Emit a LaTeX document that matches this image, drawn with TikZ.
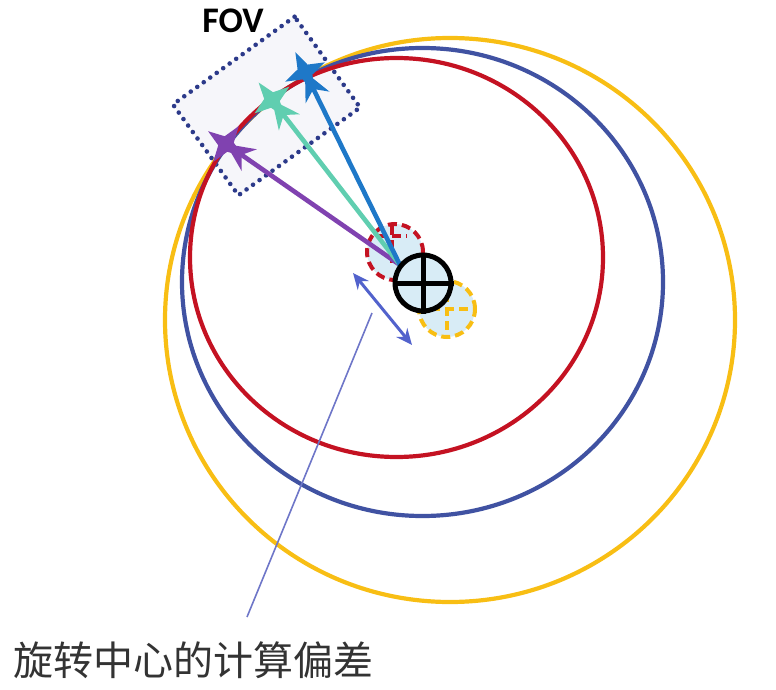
\documentclass[tikz,border=0pt]{standalone}
\usepackage{fontspec}
\newfontfamily\fovfont{Carlito}
\newfontfamily\cjk{Noto Sans CJK SC}
\usetikzlibrary{shapes.geometric,arrows.meta}
\definecolor{ringred}{RGB}{196,18,34}
\definecolor{ringblue}{RGB}{64,82,162}
\definecolor{ringyellow}{RGB}{248,190,20}
\definecolor{raypurple}{RGB}{128,66,176}
\definecolor{rayteal}{RGB}{96,206,176}
\definecolor{rayblue}{RGB}{30,120,200}
\definecolor{fovdots}{RGB}{44,58,138}
\definecolor{fovfill}{RGB}{246,246,250}
\definecolor{paleblue}{RGB}{216,236,246}
\definecolor{offset}{RGB}{82,98,204}
\definecolor{pointer}{RGB}{110,118,200}
\begin{document}
\begin{tikzpicture}[x=0.5pt,y=-0.5pt,
	ring/.style={line width=2.1pt},
	ray/.style={line width=2.3pt,-{Stealth[length=14pt,width=13pt,inset=4.5pt]}},
	spark/.style={star,star points=4,star point ratio=2.8,minimum size=22pt,inner sep=0pt},
	dashring/.style={circle,minimum size=28pt,inner sep=0pt,line width=2pt,dash pattern=on 4.5pt off 2.5pt,fill=paleblue},
	fovbox/.style={rectangle,minimum width=75pt,minimum height=56pt,fill=fovfill,draw=fovdots,line width=2.3pt,line cap=round,dash pattern=on 0pt off 4pt}]
	\useasboundingbox (0,0) rectangle (776,690);
	% field of view
	\node[fovbox,rotate=35.8] (box) at (266.5,106) {};
	\node (fov) at (233,21) {\fovfont\bfseries\fontsize{18}{20}\selectfont FOV};
	% rings
	\draw[ring,ringyellow] (450,320) ellipse [x radius=285,y radius=282];
	\draw[ring,ringblue] (422.5,282) ellipse [x radius=240.5,y radius=234];
	\draw[ring,ringred] (396.5,257.5) ellipse [x radius=206.5,y radius=199.5];
	% centres
	\node[dashring,draw=ringyellow] (yc) at (447,309) {};
	\draw[ringyellow,line width=2pt,dash pattern=on 4.5pt off 2.5pt] (yc.north) -- (yc.south) (yc.west) -- (yc.east);
	\node[dashring,draw=ringred] (rc) at (395,252) {};
	\draw[ringred,line width=2pt,dash pattern=on 4.5pt off 2.5pt] (378,236) -- (407,236) (392,226) -- (392,264);
	\coordinate (o) at (400,265);
	\node[spark,fill=raypurple,rotate=54.5] (s1) at (226,144) {};
	\node[spark,fill=rayteal,rotate=37.5] (s2) at (272,100) {};
	\node[spark,fill=rayblue,rotate=26] (s3) at (305,72) {};
	\draw[ray,raypurple] (o) -- (s1.center);
	\draw[ray,rayteal] (o) -- (s2.center);
	\draw[ray,rayblue] (o) -- (s3.center);
	\node[circle,minimum size=28pt,inner sep=0pt,draw=black,line width=2.5pt,fill=paleblue] (bc) at (423,283) {};
	\draw[line width=2.5pt] (bc.north) -- (bc.south) (bc.west) -- (bc.east);
	% offset
	\coordinate (d1) at (353,273);
	\coordinate (d2) at (412,345);
	\draw[offset,line width=1.5pt,{Stealth[length=8pt,width=7pt]}-{Stealth[length=8pt,width=7pt]}] (d1) -- (d2);
	\node (lbl) at (193,660) {\cjk\fontsize{20}{24}\selectfont\color{black!80}旋转中心的计算偏差};
	\coordinate (p1) at (247,617);
	\coordinate (p2) at (372,313);
	\draw[pointer,line width=0.8pt] (p1) -- (p2);
\end{tikzpicture}
\end{document}
